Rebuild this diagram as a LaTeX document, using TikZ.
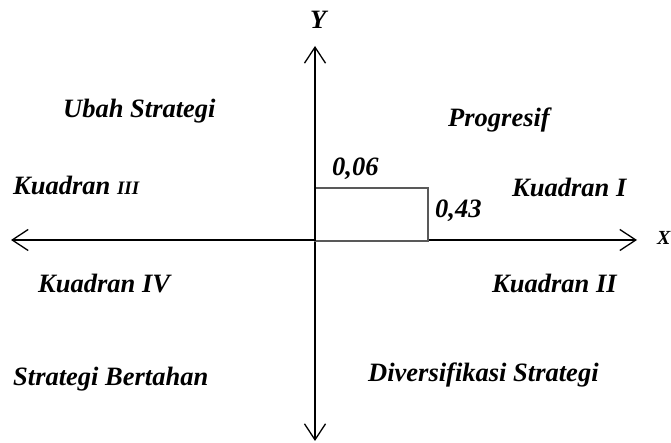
\documentclass[tikz,border=0pt]{standalone}
\usepackage{fontspec}
\setmainfont{Liberation Serif}
\usetikzlibrary{arrows.meta}
\begin{document}
\begin{tikzpicture}[x=1pt,y=1pt,
  lbl/.style={anchor=base west,inner sep=0pt,font=\fontsize{26.5}{29}\selectfont\bfseries\itshape},
  axis/.style={line width=1.3pt,{Straight Barb[length=16pt,width=21pt,line width=1.3pt]}-{Straight Barb[length=16pt,width=21pt,line width=1.3pt]}},
  box/.style={draw=black!65,line width=1.1pt,fill=white}]
\useasboundingbox (0,0) rectangle (671,443);
% axes
\coordinate (L) at (11,203);
\coordinate (R) at (637,203);
\coordinate (T) at (315,397);
\coordinate (B) at (315,2);
\draw[axis] (L) -- (R);
\draw[axis] (B) -- (T);
% rectangle
\draw[box] (315,202) rectangle (428,255);
\draw[line width=1.3pt] (315,202) -- (315,256);
% labels
\node[lbl] (ylab) at (310,414) {Y};
\node[lbl,font=\fontsize{20}{22}\selectfont\bfseries\itshape] (xlab) at (657,198) {X};
\node[lbl] (ubah) at (63,325) {Ubah Strategi};
\node[lbl] (prog) at (448,316) {Progresif};
\node[lbl] (k3) at (13,248) {Kuadran {\fontsize{19}{20}\selectfont III}};
\node[lbl] (k1) at (512,246) {Kuadran I};
\node[lbl] (v06) at (332,267) {0,06};
\node[lbl] (v43) at (435,225) {0,43};
\node[lbl] (k4) at (38,150) {Kuadran IV};
\node[lbl] (k2) at (492,150) {Kuadran II};
\node[lbl] (sb) at (13,57) {Strategi Bertahan};
\node[lbl] (ds) at (368,61) {Diversifikasi Strategi};
\end{tikzpicture}
\end{document}
